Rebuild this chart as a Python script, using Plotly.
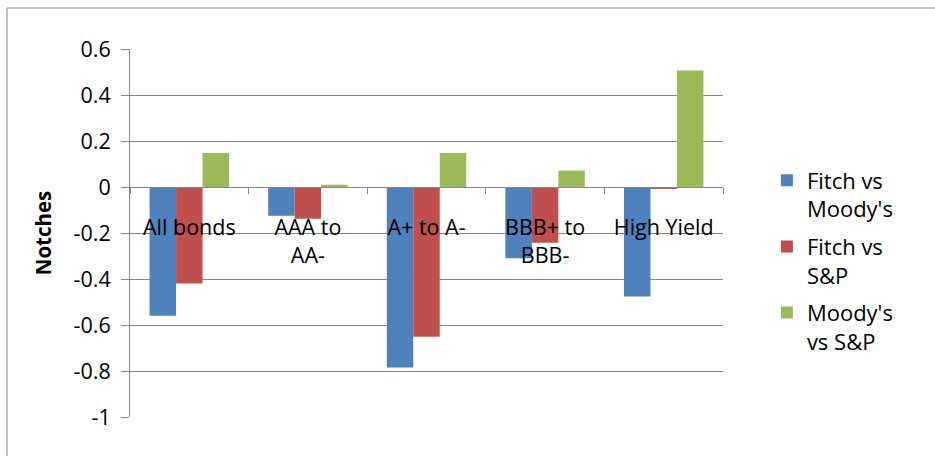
import plotly.graph_objects as go

categories = ["All bonds", "AAA to<br>AA-", "A+ to A-", "BBB+ to<br>BBB-", "High Yield"]
fitch_vs_moodys = [-0.56, -0.125, -0.785, -0.31, -0.476]
fitch_vs_sp = [-0.42, -0.138, -0.651, -0.242, -0.006]
moodys_vs_sp = [0.148, 0.01, 0.148, 0.071, 0.506]
series_names = ["Fitch vs<br>Moody's", "Fitch vs<br>S&P", "Moody's<br>vs S&P"]
y_tickvals = [-1, -0.8, -0.6, -0.4, -0.2, 0, 0.2, 0.4, 0.6]
y_ticktext = ["-1", "-0.8", "-0.6", "-0.4", "-0.2", "0", "0.2", "0.4", "0.6"]

colors = ["#4F81BD", "#C0504D", "#9BBB59"]
font_family = "Open Sans, Liberation Sans, sans-serif"
grid = "#878787"
ymin, ymax = -1, 0.6

fig = go.Figure()
for i, (name, vals, c) in enumerate(zip(series_names, [fitch_vs_moodys, fitch_vs_sp, moodys_vs_sp], colors)):
    fig.add_trace(go.Bar(x=categories, y=vals, name=name, legendgroup=f"g{i}",
                         marker=dict(color=c, line=dict(width=0))))

fig.update_layout(
    width=935, height=456,
    margin=dict(l=130, r=212, t=49, b=39),
    paper_bgcolor="white", plot_bgcolor="white",
    barmode="group", bargap=0.33, bargroupgap=0,
    font=dict(family=font_family, size=20, color="#000000"),
    showlegend=True,
    legend=dict(x=1.074, xanchor="left", y=0.70, yanchor="top",
                font=dict(size=22), valign="top", tracegroupgap=6,
                itemwidth=30, bgcolor="rgba(0,0,0,0)"),
    xaxis=dict(anchor="free", position=(0 - ymin) / (ymax - ymin),
               showline=True, linecolor=grid, linewidth=1,
               ticks="outside", tickson="boundaries", ticklen=6, tickcolor=grid,
               showgrid=False, tickfont=dict(size=21.5), ticklabelstandoff=21),
    yaxis=dict(range=[ymin, ymax], tickvals=y_tickvals, ticktext=y_ticktext,
               showgrid=True, gridcolor=grid, gridwidth=1, zeroline=False,
               showline=True, linecolor=grid, linewidth=1,
               ticks="outside", ticklen=8, tickcolor=grid,
               tickfont=dict(size=21.5), ticklabelstandoff=6,
               title=dict(text="<b>Notches</b>", font=dict(size=20.5), standoff=16)),
    shapes=[dict(type="rect", xref="paper", yref="paper",
                 x0=(7 - 130) / 593, x1=1.5, y0=-0.3, y1=(417 - 8) / 368,
                 line=dict(color=grid, width=1), fillcolor="rgba(0,0,0,0)", layer="below")],
)

fig.write_html("out.html")
